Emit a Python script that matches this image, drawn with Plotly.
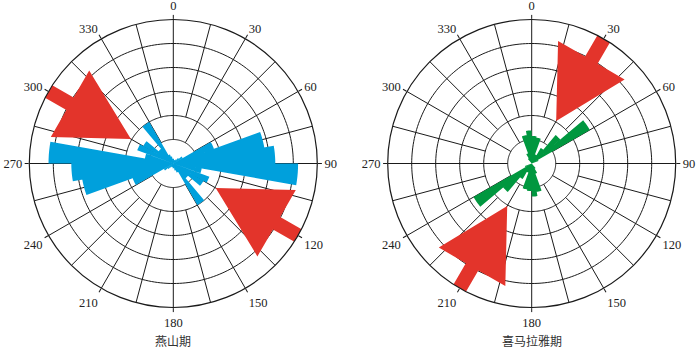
import numpy as np
import plotly.graph_objects as go

# rose bins, 10 degrees each, 0-180 (the 180-360 half mirrors it)
bin_start = list(range(0, 180, 10))
yanshan_r = [0.2, 0.15, 0.15, 0.2, 0.3, 0.45, 1.8, 3.85, 4.25, 5.2, 1.2, 1.6, 1.45, 0.8, 2.0, 0.4, 0.3, 0.2]
himalaya_r = [1.15, 1.1, 0.4, 0.75, 1.55, 2.8, 0.3, 0.0, 0.0, 0.0, 0.0, 0.0, 0.0, 0.0, 0.25, 0.45, 1.2, 1.38]

# compression arrows (azimuth, degrees)
yanshan_arrows = [120, 300]
himalaya_arrows = [30, 210]

tick_vals = list(range(0, 360, 30))
tick_text = [str(v) for v in tick_vals]
titles = ['燕山期', '喜马拉雅期']

BLUE = '#00a0dc'
GREEN = '#00973f'
RED = '#e3342b'
INK = '#1a1a1a'
R_MAX = 6


def grid_traces(subplot):
    traces = []
    th = np.linspace(0, 360, 241)
    r, t = [], []
    for k in range(1, R_MAX):
        r += [k] * len(th) + [None]
        t += list(th) + [None]
    traces.append(go.Scatterpolar(r=r, theta=t, mode='lines', subplot=subplot,
                                  line=dict(color=INK, width=1), hoverinfo='skip'))
    r, t = [], []
    for a in range(0, 360, 15):
        r0 = 1 if a % 30 == 0 else 2
        r += [r0, R_MAX, None]
        t += [a, a, None]
    traces.append(go.Scatterpolar(r=r, theta=t, mode='lines', subplot=subplot,
                                  line=dict(color=INK, width=1), hoverinfo='skip'))
    return traces


def rose_trace(values, color, subplot):
    r, t = [], []
    starts = bin_start + [b + 180 for b in bin_start]
    vals = list(values) + list(values)
    for b, v in zip(starts, vals):
        if v <= 0:
            continue
        arc = np.linspace(b, b + 10, 6)
        r += [0] + [v] * len(arc) + [0, None]
        t += [b] + list(arc) + [b + 10, None]
    return go.Scatterpolar(r=r, theta=t, mode='lines', fill='toself', fillcolor=color,
                           line=dict(width=0, color=color), subplot=subplot,
                           hoverinfo='skip', cliponaxis=False)


def arrow_trace(azimuths, subplot):
    tip, base, head, shaft = 2.04, 4.97, 1.6, 0.3
    r, t = [], []
    for az in azimuths:
        a = np.radians(az)
        u = np.array([np.sin(a), np.cos(a)])
        p = np.array([np.cos(a), -np.sin(a)])
        pts = [tip * u, base * u + head * p, base * u + shaft * p, R_MAX * u + shaft * p,
               R_MAX * u - shaft * p, base * u - shaft * p, base * u - head * p, tip * u]
        for x, y in pts:
            r.append(float(np.hypot(x, y)))
            t.append(float(np.degrees(np.arctan2(x, y)) % 360))
        r.append(None)
        t.append(None)
    return go.Scatterpolar(r=r, theta=t, mode='lines', fill='toself', fillcolor=RED,
                           line=dict(width=0, color=RED), subplot=subplot,
                           hoverinfo='skip', cliponaxis=False)


fig = go.Figure()
for subplot, vals, color, arrows in [('polar', yanshan_r, BLUE, yanshan_arrows),
                                     ('polar2', himalaya_r, GREEN, himalaya_arrows)]:
    for tr in grid_traces(subplot):
        fig.add_trace(tr)
    fig.add_trace(rose_trace(vals, color, subplot))
    fig.add_trace(arrow_trace(arrows, subplot))


def polar_layout(cx):
    rad_x = 144 / 700
    rad_y = 144 / 348
    cy = (348 - 163.5) / 348
    return dict(
        domain=dict(x=[cx / 700 - rad_x, cx / 700 + rad_x], y=[cy - rad_y, cy + rad_y]),
        bgcolor='white',
        radialaxis=dict(range=[0, R_MAX], visible=False),
        angularaxis=dict(
            rotation=90, direction='clockwise',
            tickmode='array', tickvals=tick_vals, ticktext=tick_text,
            showgrid=False, showline=True, linecolor=INK, linewidth=1.2,
            ticks='outside', ticklen=4, tickcolor=INK,
            tickfont=dict(family='Liberation Serif', size=12.5, color='#222'),
        ),
    )


fig.update_layout(
    width=700, height=348,
    margin=dict(l=0, r=0, t=0, b=0),
    paper_bgcolor='white',
    showlegend=False,
    polar=polar_layout(173.3),
    polar2=polar_layout(531.7),
)

for cx, title in zip([173.3, 531.7], titles):
    fig.add_annotation(x=cx / 700, y=(348 - 340.5) / 348, xref='paper', yref='paper',
                       text=title, showarrow=False, xanchor='center', yanchor='middle',
                       font=dict(family='Noto Sans CJK SC', size=12, color='#333'))

fig.write_html("out.html", config={'displayModeBar': False},
               post_script="document.body.style.margin = '0';")
